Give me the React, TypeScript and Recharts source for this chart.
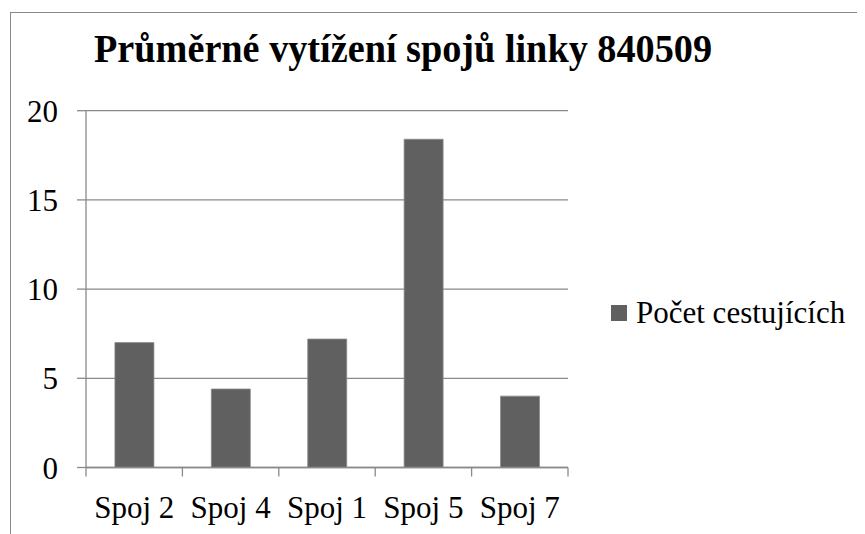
import { BarChart, Bar, XAxis, YAxis, CartesianGrid, Legend } from "recharts";

const categories = ["Spoj 2", "Spoj 4", "Spoj 1", "Spoj 5", "Spoj 7"];
const passengers = [7.0, 4.4, 7.2, 18.4, 4.0];
const yTicks = [0, 5, 10, 15, 20];

const SERIES_NAME = "Počet cestujících";
const TITLE = "Průměrné vytížení spojů linky 840509";

const FONT = "Liberation Serif, Times New Roman, serif";
const GRAY = "#8a8a8a";
const BAR = "#606060";

const data = categories.map((name, i) => ({ name, value: passengers[i] }));

function LegendBox() {
  return (
    <div style={{ display: "flex", alignItems: "center", fontFamily: FONT, fontSize: 31, color: "#000" }}>
      <span style={{ display: "inline-block", width: 16, height: 16, background: BAR, marginRight: 9 }} />
      <span>{SERIES_NAME}</span>
    </div>
  );
}

// popisek kategorie + carky na hranicich kategorii (jako v Excelu)
function CategoryTick(props: any) {
  const { x, y, payload, width, visibleTicksCount } = props;
  const half = payload?.offset ?? width / (2 * (visibleTicksCount || categories.length));
  const isLast = payload?.index === categories.length - 1;
  return (
    <g>
      <line x1={x - half} x2={x - half} y1={y} y2={y + 9} stroke={GRAY} strokeWidth={1.3} />
      {isLast && <line x1={x + half} x2={x + half} y1={y} y2={y + 9} stroke={GRAY} strokeWidth={1.3} />}
      <text x={x} y={y + 28} dy="0.71em" textAnchor="middle" fontFamily={FONT} fontSize={31} fill="#000">
        {payload.value}
      </text>
    </g>
  );
}

export default function App() {
  return (
    <div style={{ position: "relative", width: 857, height: 526, overflow: "hidden", background: "#fff" }}>
      {/* ramecek, vpravo a dole oriznuty jako v originale */}
      <div
        style={{
          position: "absolute",
          left: 2,
          top: 4,
          width: 1000,
          height: 1000,
          border: `1.5px solid ${GRAY}`,
        }}
      />
      <svg style={{ position: "absolute", left: 0, top: 0 }} width={857} height={80}>
        <text
          x={86}
          y={54}
          textLength={618}
          lengthAdjust="spacingAndGlyphs"
          fontFamily={FONT}
          fontWeight="bold"
          fontSize={40}
          fill="#000"
        >
          {TITLE}
        </text>
      </svg>
      <div style={{ position: "absolute", left: 0, top: 0 }}>
        <BarChart
          width={857}
          height={526}
          data={data}
          margin={{ top: 102.7, right: 43, bottom: 16.5, left: 0 }}
          barCategoryGap="30%"
        >
          <CartesianGrid vertical={false} stroke={GRAY} strokeWidth={1.3} />
          <XAxis
            dataKey="name"
            height={50}
            tickLine={false}
            tickSize={0}
            tickMargin={0}
            interval={0}
            stroke={GRAY}
            strokeWidth={1.3}
            tick={<CategoryTick />}
          />
          <YAxis
            domain={[0, 20]}
            ticks={yTicks}
            width={78}
            tickSize={9}
            tickMargin={19}
            stroke={GRAY}
            strokeWidth={1.3}
            tick={{ fill: "#000", fontSize: 31, fontFamily: FONT }}
          />
          <Legend
            layout="vertical"
            align="right"
            verticalAlign="middle"
            wrapperStyle={{ left: 603, top: 287, width: 254 }}
            content={() => <LegendBox />}
          />
          <Bar
            dataKey="value"
            name={SERIES_NAME}
            fill={BAR}
            stroke="#8c8c8c"
            strokeWidth={0.8}
            isAnimationActive={false}
          />
        </BarChart>
      </div>
    </div>
  );
}
